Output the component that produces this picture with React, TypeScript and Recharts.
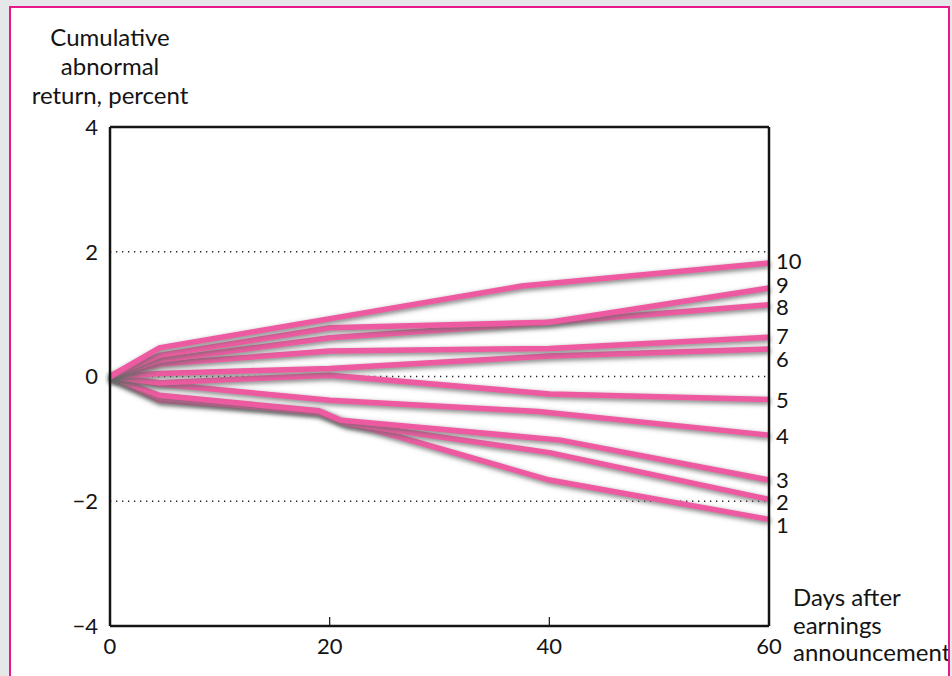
import React from 'react';
import { LineChart, Line, XAxis, YAxis, ReferenceLine } from 'recharts';

const xTicks = [0, 20, 40, 60];
const yTicks = [-4, -2, 0, 2, 4];
const gridLevels = [-2, 0, 2];

// [day, cumulative abnormal return %] per portfolio, 1 = worst surprise, 10 = best
const decile1 = [[0, 0], [4.5, -0.38], [19, -0.56], [21.5, -0.75], [24, -0.85], [40, -1.66], [60, -2.29]];
const decile2 = [[0, 0], [4.5, -0.34], [19, -0.58], [21.5, -0.75], [40, -1.22], [60, -1.97]];
const decile3 = [[0, 0], [4.5, -0.3], [19, -0.55], [21, -0.7], [41, -1.02], [60, -1.66]];
const decile4 = [[0, 0], [4.5, -0.12], [20, -0.38], [39, -0.56], [60, -0.94]];
const decile5 = [[0, 0], [4.5, -0.1], [20, 0.02], [40, -0.28], [60, -0.37]];
const decile6 = [[0, 0], [4.5, 0.05], [20, 0.13], [40, 0.33], [60, 0.44]];
const decile7 = [[0, 0], [4.5, 0.2], [20, 0.41], [40, 0.45], [60, 0.63]];
const decile8 = [[0, 0], [4.5, 0.26], [20, 0.62], [40, 0.87], [60, 1.15]];
const decile9 = [[0, 0], [4.5, 0.34], [20, 0.78], [40, 0.87], [60, 1.42]];
const decile10 = [[0, 0], [4.5, 0.46], [37.5, 1.45], [60, 1.82]];

const deciles = [decile1, decile2, decile3, decile4, decile5, decile6, decile7, decile8, decile9, decile10];
const decileNames = ['1', '2', '3', '4', '5', '6', '7', '8', '9', '10'];

const FONT = 'Lato, "Noto Sans", sans-serif';
const PINK = '#ee5aa1';
const INK = '#141414';

// small vertical nudges so the end labels don't collide
const labelNudge: Record<string, number> = { '10': -2, '9': -3, '8': 2, '7': -2, '6': 9, '3': -1, '2': 2, '1': 5 };

const fmt = (v: number) => (v < 0 ? '\u2212' + Math.abs(v) : String(v));

const XTick = (p: any) => (
  <g>
    <line x1={p.x} x2={p.x} y1={p.y} y2={p.y - 9} stroke={INK} strokeWidth={1.2} />
    <text x={p.x} y={p.y + 19} textAnchor="middle" dominantBaseline="central"
      fontSize={22} fontFamily={FONT} fill={INK}>
      {fmt(p.payload.value)}
    </text>
  </g>
);

const endLabel = (name: string, last: number) => (p: any) => {
  if (p.index !== last) return null;
  return (
    <text x={p.x + 7} y={p.y + (labelNudge[name] || 0)} dominantBaseline="central"
      fontSize={22} fontFamily={FONT} fill={INK}>
      {name}
    </text>
  );
};

export default function App() {
  return (
    <div style={{ position: 'absolute', left: 0, top: 0, width: 952, height: 676, background: '#e6e7e9', overflow: 'hidden' }}>
      <style>{'.decile .recharts-line-curve{filter:url(#shade);}'}</style>
      <svg width={0} height={0} style={{ position: 'absolute' }}>
        <defs>
          <filter id="shade" x="-5%" y="-40%" width="110%" height="180%">
            <feDropShadow dx="1" dy="2" stdDeviation="2.8" floodColor="#666" floodOpacity="0.9" />
          </filter>
        </defs>
      </svg>
      <div style={{
        position: 'absolute', left: 9, top: 6, width: 941, height: 700,
        border: '2px solid #e8178b', background: '#fff', boxSizing: 'border-box',
      }} />
      <div style={{ position: 'absolute', left: 0, top: 0 }}>
        <LineChart width={952} height={676} margin={{ top: 127, right: 183, bottom: 20, left: 70 }}>
          <XAxis type="number" dataKey="day" domain={[0, 60]} ticks={xTicks} interval={0}
            height={30} tickSize={0} tickMargin={0} tick={XTick}
            axisLine={{ stroke: INK, strokeWidth: 2.5 }} tickLine={false} />
          <YAxis type="number" domain={[-4, 4]} ticks={yTicks} interval={0} width={40}
            tickSize={0} tickMargin={12} tickFormatter={fmt} tickLine={false}
            axisLine={{ stroke: INK, strokeWidth: 2.5 }}
            tick={{ fill: INK, fontSize: 22, fontFamily: FONT }} />
          {gridLevels.map((g) => (
            <ReferenceLine key={g} y={g} stroke="#222" strokeWidth={1.3} strokeDasharray="1.3 4.7" />
          ))}
          {deciles.map((d, i) => {
            const rows = d.map(([day, v]) => ({ day, v }));
            return (
              <Line key={decileNames[i]} className="decile" data={rows} dataKey="v" type="linear"
                stroke={PINK} strokeWidth={5.5} dot={false} activeDot={false}
                isAnimationActive={false}
                label={endLabel(decileNames[i], rows.length - 1)} />
            );
          })}
          <ReferenceLine y={4} stroke={INK} strokeWidth={2.5} />
          <ReferenceLine x={60} stroke={INK} strokeWidth={2.5} />
        </LineChart>
      </div>
      <div style={{
        position: 'absolute', left: 10, top: 22, width: 200, textAlign: 'center',
        fontFamily: FONT, fontSize: 24, lineHeight: '29px', color: INK,
      }}>
        Cumulative<br />abnormal<br />return, percent
      </div>
      <div style={{
        position: 'absolute', left: 793, top: 583, width: 155, overflow: 'hidden', whiteSpace: 'nowrap',
        fontFamily: FONT, fontSize: 24, lineHeight: '27.5px', color: INK,
      }}>
        Days after<br />earnings<br />announcement
      </div>
    </div>
  );
}
